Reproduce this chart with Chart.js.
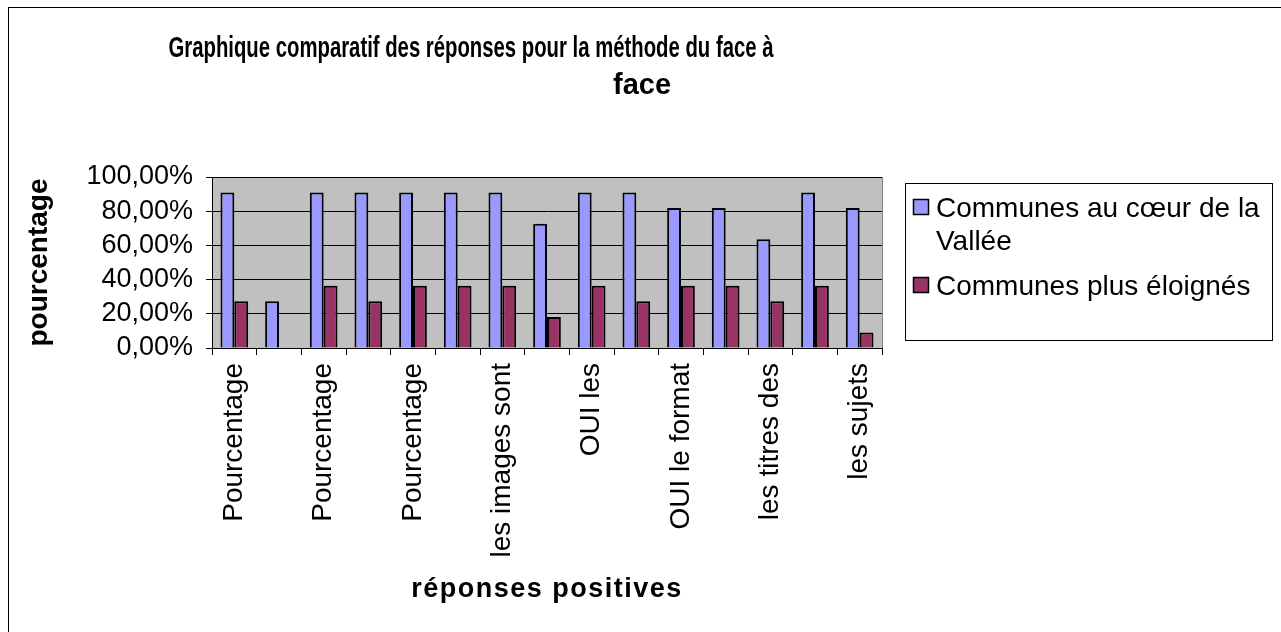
<!DOCTYPE html>
<html>
<head>
<meta charset="utf-8">
<script src="https://cdn.jsdelivr.net/npm/chart.js@4.4.0/dist/chart.umd.min.js"></script>
<style>
  html,body{margin:0;padding:0;background:#fff;}
  #wrap{width:1281px;height:632px;position:relative;}
</style>
</head>
<body>
<div id="wrap"><canvas id="chart" width="1281" height="632"></canvas></div>
<script>
/* data */
var categories = ['Pourcentage','','Pourcentage','','Pourcentage','','les images sont','','OUI les','','OUI le format','','les titres des','','les sujets'];
var seriesNames = ['Communes au cœur de la Vallée','Communes plus éloignés'];
var coeurValues = [90.91,27.27,90.91,90.91,90.91,90.91,90.91,72.73,90.91,90.91,81.82,81.82,63.64,90.91,81.82];
var eloignesValues = [27.27,0,36.36,27.27,36.36,36.36,36.36,18.18,36.36,27.27,36.36,36.36,27.27,36.36,9.09];
var yTicks = [0,20,40,60,80,100];
var titleLines = ['Graphique comparatif des réponses pour la méthode du face à','face'];
var legendLines = [['Communes au cœur de la','Vallée'],['Communes plus éloignés']];

var FONT = '"Liberation Sans", Arial, sans-serif';

function pct(v){ return v.toFixed(2).replace('.',',')+'%'; }

// grey plot area, outer frame, title, x title, legend box
var excelLook = {
  id:'excelLook',
  beforeDraw:function(chart){
    var c = chart.ctx, a = chart.chartArea;
    c.save();
    c.fillStyle = '#fff';
    c.fillRect(0,0,chart.width,chart.height);
    c.strokeStyle = '#000';
    c.lineWidth = 1;
    c.strokeRect(8.5,7.5,1290,640);
    c.fillStyle = '#c0c0c0';
    c.fillRect(a.left,a.top,a.right-a.left,a.bottom-a.top);
    c.strokeStyle = '#808080';
    c.strokeRect(a.left+0.5,a.top+0.5,a.right-a.left,a.bottom-a.top);
    c.restore();
  },
  afterDraw:function(chart){
    var c = chart.ctx, a = chart.chartArea;
    c.save();
    // title (squeezed like the original)
    c.fillStyle = '#000';
    c.font = 'bold 29px '+FONT;
    c.textAlign = 'center';
    c.textBaseline = 'alphabetic';
    c.fillText(titleLines[0], 471, 57, 605);
    c.fillText(titleLines[1], 642, 94, 60);
    // x axis title, letter spaced
    c.font = 'bold 27px '+FONT;
    c.letterSpacing = '1.5px';
    c.textBaseline = 'middle';
    c.fillText('réponses positives', (a.left+a.right)/2, 590);
    c.letterSpacing = '0px';
    // legend
    var lx = a.right+23, ly = a.top+6, lw = 367, lh = 157;
    c.strokeStyle = '#000';
    c.lineWidth = 1;
    c.strokeRect(lx+0.5, ly+0.5, lw, lh);
    c.font = '28px '+FONT;
    c.textAlign = 'left';
    c.textBaseline = 'alphabetic';
    var ds = chart.data.datasets;
    var y = ly+16;
    for(var i=0;i<ds.length;i++){
      c.fillStyle = ds[i].backgroundColor;
      c.fillRect(lx+8.5, y+0.5, 15, 15);
      c.lineWidth = 1.5;
      c.strokeStyle = '#000';
      c.strokeRect(lx+8.5, y+0.5, 15, 15);
      c.fillStyle = '#000';
      for(var j=0;j<legendLines[i].length;j++){
        c.fillText(legendLines[i][j], lx+31, y+18+j*33);
      }
      y += legendLines[i].length*33+12;
    }
    c.restore();
  }
};

new Chart(document.getElementById('chart'), {
  type:'bar',
  data:{
    labels:categories,
    datasets:[
      {label:seriesNames[0], data:coeurValues, backgroundColor:'#9999ff', borderColor:'#000', borderWidth:2},
      {label:seriesNames[1], data:eloignesValues, backgroundColor:'#993366', borderColor:'#000', borderWidth:2}
    ]
  },
  options:{
    responsive:false,
    animation:false,
    devicePixelRatio:1,
    categoryPercentage:0.62,
    barPercentage:1,
    layout:{padding:{left:0,top:177,right:399,bottom:0}},
    plugins:{legend:{display:false},tooltip:{enabled:false},title:{display:false}},
    scales:{
      x:{
        afterFit:function(s){ s.height = 284; },
        grid:{offset:true,drawOnChartArea:false,color:'#000',tickLength:7},
        border:{color:'#000'},
        ticks:{autoSkip:false,minRotation:90,maxRotation:90,padding:8,color:'#000',font:{family:FONT,size:28}}
      },
      y:{
        min:0,max:100,
        afterFit:function(s){ s.width = 212; },
        afterBuildTicks:function(s){ s.ticks = yTicks.map(function(v){return {value:v};}); },
        grid:{color:'#000',tickLength:6},
        border:{color:'#000'},
        ticks:{autoSkip:false,padding:13,color:'#000',font:{family:FONT,size:27},callback:function(v){return pct(v);}},
        title:{display:true,text:'pourcentage',color:'#000',font:{family:FONT,size:28,weight:'bold'},padding:{top:22,bottom:0}}
      }
    }
  },
  plugins:[excelLook]
});
</script>
</body>
</html>
